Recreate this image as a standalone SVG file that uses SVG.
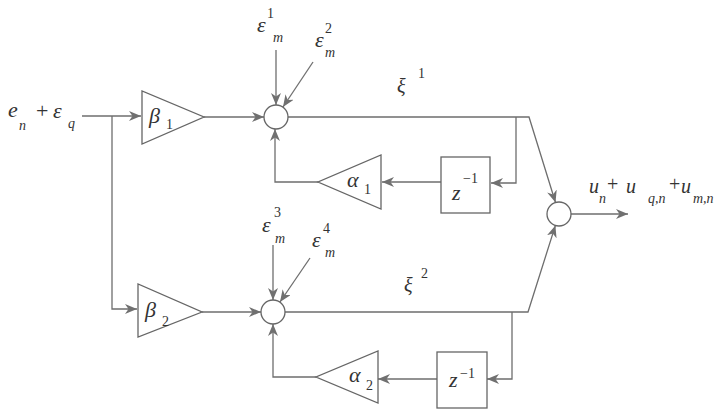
<svg xmlns="http://www.w3.org/2000/svg" width="716" height="409" viewBox="0 0 716 409">
<style>
.ln{fill:none;stroke:#6e6e6e;stroke-width:1.3}
.sh{fill:#fff;stroke:#666;stroke-width:1.3}
.t{font-family:"Liberation Serif","Times New Roman",serif;fill:#333}
.i{font-style:italic}
.b{font-size:22px}
.s{font-size:14px}
.m{font-size:20px}
</style>
<defs>
<marker id="ah" markerUnits="userSpaceOnUse" markerWidth="13" markerHeight="10" refX="12" refY="5" orient="auto">
<path d="M0,0 L12,5 L0,10 L3.5,5 z" fill="#707070"/>
</marker>
</defs>
<g id="connectors" class="ln" marker-end="url(#ah)">
<path d="M82,116 H141"/>
<path d="M112,116 V309 H137"/>
<path d="M204,117 H264"/>
<path d="M276,50 V105"/>
<path d="M313,62 L283,107"/>
<path d="M318,182 H275 V129"/>
<path d="M288,117 H529 L555.5,202.5"/>
<path d="M516,117 V183 H491"/>
<path d="M441,182 H382"/>
<path d="M202,312 H261"/>
<path d="M273,245 V300"/>
<path d="M310,258 L280,302"/>
<path d="M316,377 H273 V324"/>
<path d="M285,312 H528 L555.4,225.4"/>
<path d="M512,312 V379 H487"/>
<path d="M437,379 H378"/>
<path d="M571,214 H628"/>
</g>
<g id="input">
<text class="t i b" x="8" y="117">e</text>
<text class="t i s" x="19" y="130">n</text>
<text class="t b" x="36" y="118">+</text>
<text class="t i b" x="53" y="118">ε</text>
<text class="t i s" x="68" y="128">q</text>
</g>
<g id="beta1">
<polygon class="sh" points="142,91 142,144 204,117"/>
<text class="t i b" x="149" y="123">β</text>
<text class="t s" x="166" y="129">1</text>
</g>
<g id="beta2">
<polygon class="sh" points="138,284 138,337 202,312"/>
<text class="t i b" x="145" y="317">β</text>
<text class="t s" x="162" y="326">2</text>
</g>
<g id="eps1">
<text class="t i b" x="257" y="32">ε</text>
<text class="t s" x="267" y="18">1</text>
<text class="t i s" x="273" y="42">m</text>
</g>
<g id="eps2">
<text class="t i b" x="315" y="47">ε</text>
<text class="t s" x="325" y="33">2</text>
<text class="t i s" x="325" y="57">m</text>
</g>
<g id="eps3">
<text class="t i b" x="262" y="232">ε</text>
<text class="t s" x="274" y="217">3</text>
<text class="t i s" x="275" y="243">m</text>
</g>
<g id="eps4">
<text class="t i b" x="312" y="247">ε</text>
<text class="t s" x="323" y="233">4</text>
<text class="t i s" x="325" y="257">m</text>
</g>
<g id="sum1"><circle class="sh" cx="276" cy="117" r="12"/></g>
<g id="sum2"><circle class="sh" cx="273" cy="312" r="12"/></g>
<g id="sum3"><circle class="sh" cx="559" cy="214" r="12"/></g>
<g id="xi1">
<text class="t i m" x="397" y="93" fill="#555">ξ</text>
<text class="t s" x="418" y="78">1</text>
</g>
<g id="xi2">
<text class="t i m" x="404" y="292" fill="#555">ξ</text>
<text class="t s" x="421" y="278">2</text>
</g>
<g id="alpha1">
<polygon class="sh" points="381,155 381,209 318,182"/>
<text class="t i b" x="347" y="187">α</text>
<text class="t s" x="364" y="194">1</text>
</g>
<g id="alpha2">
<polygon class="sh" points="378,351 378,403 316,377"/>
<text class="t i b" x="349" y="382">α</text>
<text class="t s" x="366" y="390">2</text>
</g>
<g id="delay1">
<rect class="sh" x="441" y="157" width="49" height="56"/>
<text class="t i b" x="452" y="200">z</text>
<text class="t s" x="463" y="183">−1</text>
</g>
<g id="delay2">
<rect class="sh" x="437" y="352" width="50" height="56"/>
<text class="t i b" x="449" y="387">z</text>
<text class="t s" x="460" y="378">−1</text>
</g>
<g id="output">
<text class="t i m" x="589" y="193">u</text>
<text class="t i s" x="599" y="203">n</text>
<text class="t m" x="607" y="191">+</text>
<text class="t i m" x="626" y="193">u</text>
<text class="t i s" x="648" y="203">q,n</text>
<text class="t m" x="669" y="191">+</text>
<text class="t i m" x="681" y="193">u</text>
<text class="t i s" x="693" y="203">m,n</text>
</g>
</svg>
